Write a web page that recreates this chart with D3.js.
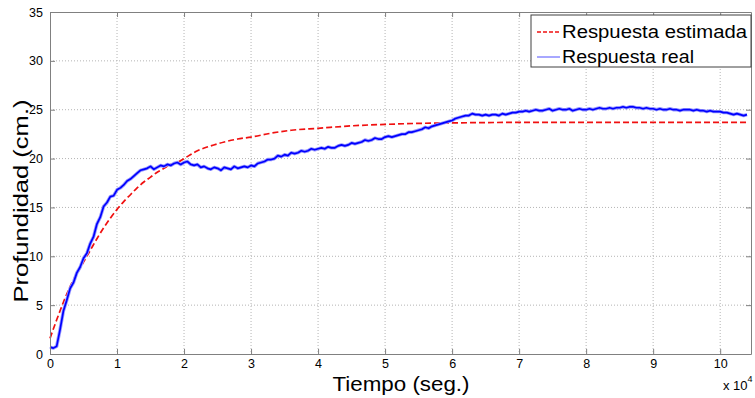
<!DOCTYPE html>
<html>
<head>
<meta charset="utf-8">
<script src="https://cdn.jsdelivr.net/npm/d3@7"></script>
<style>
  body { margin: 0; background: #fff; }
  text { font-family: "Liberation Sans", Arial, sans-serif; fill: #000; }
</style>
</head>
<body>
<svg id="chart"></svg>
<script>
const width = 755;
const height = 398;

// x ticks (in units of 10^4 s) and y ticks
const xTickLabels = [0, 1, 2, 3, 4, 5, 6, 7, 8, 9, 10];
const yTickLabels = [0, 5, 10, 15, 20, 25, 30, 35];

// Respuesta real: one sample every 500 s, from 0 to 104000 s
const realStep = 500;
const realValues = [
  0.7, 0.6, 0.8, 2.5, 4.4, 5.5, 6.7, 7.3, 8.3, 8.9,
  9.8, 10.3, 11.3, 12.0, 13.3, 14.0, 15.1, 15.5, 16.1, 16.2,
  16.8, 17.0, 17.3, 17.7, 17.9, 18.2, 18.5, 18.8, 18.9, 19.0,
  19.2, 18.9, 19.1, 19.3, 19.2, 19.4, 19.3, 19.5, 19.6, 19.4,
  19.6, 19.7, 19.4, 19.3, 19.4, 19.1, 19.2, 19.0, 18.9, 19.1,
  19.0, 18.8, 19.1, 19.0, 18.9, 19.2, 19.0, 19.1, 19.2, 19.1,
  19.3, 19.2, 19.5, 19.6, 19.7, 19.9, 19.9, 20.0, 20.3, 20.2,
  20.4, 20.3, 20.6, 20.5, 20.6, 20.8, 20.7, 20.8, 21.0, 20.9,
  21.0, 21.1, 21.0, 21.2, 21.1, 21.1, 21.3, 21.4, 21.3, 21.4,
  21.6, 21.5, 21.6, 21.7, 21.9, 21.8, 21.9, 22.1, 22.0, 22.0,
  22.2, 22.3, 22.2, 22.3, 22.4, 22.5, 22.5, 22.7, 22.7, 22.8,
  22.9, 23.0, 23.2, 23.1, 23.3, 23.4, 23.5, 23.6, 23.7, 23.8,
  23.9, 24.1, 24.2, 24.3, 24.4, 24.4, 24.6, 24.5, 24.5, 24.4,
  24.5, 24.4, 24.5, 24.5, 24.4, 24.6, 24.5, 24.6, 24.7, 24.7,
  24.8, 24.8, 24.9, 24.8, 24.9, 25.0, 24.9, 24.9, 25.0, 25.1,
  24.9, 25.0, 25.1, 25.0, 25.0, 25.1, 24.9, 25.0, 25.1, 25.0,
  25.0, 25.1, 25.0, 25.1, 25.2, 25.1, 25.1, 25.2, 25.1, 25.2,
  25.2, 25.3, 25.2, 25.3, 25.3, 25.2, 25.2, 25.1, 25.2, 25.1,
  25.1, 25.0, 25.1, 25.0, 25.0, 25.1, 25.0, 25.0, 24.9, 25.0,
  25.0, 25.0, 24.9, 25.0, 24.9, 24.9, 24.8, 24.9, 24.8, 24.8,
  24.8, 24.7, 24.7, 24.6, 24.5, 24.6, 24.5, 24.4, 24.5
];

// Respuesta estimada
const estTimes = [0, 1000, 2000, 3000, 4000, 5000, 6000, 7000, 8000, 9000,
  10000, 11000, 12000, 13000, 14000, 15000, 16000, 17000, 18000, 19000,
  20000, 22000, 24000, 26000, 28000, 30000, 33000, 36000, 40000, 45000,
  50000, 55000, 60000, 70000, 80000, 90000, 104200];
const estValues = [1.6, 3.5, 5.3, 6.9, 8.2, 9.4, 10.6, 11.8, 12.9, 13.9,
  14.8, 15.6, 16.3, 17.0, 17.6, 18.1, 18.6, 19.0, 19.4, 19.6,
  20.0, 20.8, 21.3, 21.7, 22.0, 22.2, 22.6, 22.9, 23.1, 23.35,
  23.5, 23.6, 23.65, 23.7, 23.7, 23.7, 23.7];

const seriesNames = ["Respuesta estimada", "Respuesta real"];

const margin = { top: 12, right: 4, bottom: 44, left: 50 };
const plotW = width - margin.left - margin.right;
const plotH = height - margin.top - margin.bottom;

const svg = d3.select("#chart").attr("width", width).attr("height", height);
const g = svg.append("g").attr("transform", `translate(${margin.left},${margin.top})`);

const x = d3.scaleLinear().domain([0, 104600]).range([0, plotW]);
const y = d3.scaleLinear().domain([0, 35]).range([plotH, 0]);

// grid
g.append("g").selectAll("line")
  .data(xTickLabels.slice(1))
  .join("line")
  .attr("x1", d => x(d * 1e4)).attr("x2", d => x(d * 1e4))
  .attr("y1", 0).attr("y2", plotH)
  .attr("stroke", "#b4b4b4").attr("stroke-dasharray", "1,2");

g.append("g").selectAll("line")
  .data(yTickLabels.slice(1, -1))
  .join("line")
  .attr("x1", 0).attr("x2", plotW)
  .attr("y1", d => y(d)).attr("y2", d => y(d))
  .attr("stroke", "#b4b4b4").attr("stroke-dasharray", "1,2");

// lines
const realData = realValues.map((v, i) => [i * realStep, v]);
const estData = estTimes.map((t, i) => [t, estValues[i]]);
const line = d3.line().x(d => x(d[0])).y(d => y(d[1]));

g.append("path")
  .datum(estData)
  .attr("d", line.curve(d3.curveMonotoneX))
  .attr("fill", "none")
  .attr("stroke", "#f01010")
  .attr("stroke-width", 1.7)
  .attr("stroke-dasharray", "6,3");

// noisy trace: light halo under a solid core
const realLine = d3.line().x(d => x(d[0])).y(d => y(d[1]));
g.append("path")
  .datum(realData)
  .attr("d", realLine)
  .attr("fill", "none")
  .attr("stroke", "#9a9aff")
  .attr("stroke-width", 3.4)
  .attr("stroke-linejoin", "round");

g.append("path")
  .datum(realData)
  .attr("d", realLine)
  .attr("fill", "none")
  .attr("stroke", "#0000ff")
  .attr("stroke-width", 1.7)
  .attr("stroke-linejoin", "round");

// axes, MATLAB style: inward ticks on all four sides
const axisColor = "#808080";
const xAxisB = d3.axisBottom(x).tickValues(xTickLabels.map(d => d * 1e4))
  .tickFormat(d => d / 1e4).tickSizeInner(-5).tickSizeOuter(0).tickPadding(5);
const xAxisT = d3.axisTop(x).tickValues(xTickLabels.map(d => d * 1e4))
  .tickFormat("").tickSizeInner(-5).tickSizeOuter(0);
const yAxisL = d3.axisLeft(y).tickValues(yTickLabels)
  .tickSizeInner(-5).tickSizeOuter(0).tickPadding(7);
const yAxisR = d3.axisRight(y).tickValues(yTickLabels)
  .tickFormat("").tickSizeInner(-5).tickSizeOuter(0);

function styleAxis(sel) {
  sel.selectAll(".domain").attr("stroke", axisColor);
  sel.selectAll(".tick line").attr("stroke", axisColor);
  sel.selectAll(".tick text").attr("font-size", "12.5px")
    .attr("font-family", "Liberation Sans, Arial, sans-serif").attr("fill", "#000");
}

g.append("g").attr("transform", `translate(0,${plotH})`).call(xAxisB).call(styleAxis);
g.append("g").call(xAxisT).call(styleAxis);
g.append("g").call(yAxisL).call(styleAxis);
g.append("g").attr("transform", `translate(${plotW},0)`).call(yAxisR).call(styleAxis);

// x 10^4 multiplier
const mult = svg.append("text")
  .attr("x", 723).attr("y", 390)
  .attr("font-size", "13px");
mult.append("tspan").text("x 10");
mult.append("tspan").attr("dy", -8).attr("font-size", "9px").text("4");

// axis labels
svg.append("text")
  .attr("x", 401).attr("y", 391)
  .attr("text-anchor", "middle")
  .attr("font-size", "20px")
  .attr("textLength", 137).attr("lengthAdjust", "spacingAndGlyphs")
  .text("Tiempo (seg.)");

svg.append("text")
  .attr("transform", "translate(28,201) rotate(-90)")
  .attr("text-anchor", "middle")
  .attr("font-size", "21px")
  .attr("textLength", 203).attr("lengthAdjust", "spacingAndGlyphs")
  .text("Profundidad (cm.)");

// legend
const legend = svg.append("g").attr("transform", "translate(531,15)");
legend.append("rect")
  .attr("width", 220).attr("height", 52)
  .attr("fill", "#fff").attr("stroke", "#404040");

const legendStyles = [
  { color: "#f01010", dash: "4,2", w: 1.4, len: 185 },
  { color: "#5050ff", dash: null, w: 1, len: 132 }
];

seriesNames.forEach((name, i) => {
  const row = legend.append("g").attr("transform", `translate(0,${17 + i * 25})`);
  row.append("line")
    .attr("x1", 6).attr("x2", 29).attr("y1", 0).attr("y2", 0)
    .attr("stroke", legendStyles[i].color)
    .attr("stroke-width", legendStyles[i].w)
    .attr("stroke-dasharray", legendStyles[i].dash);
  row.append("text")
    .attr("x", 31).attr("y", 6)
    .attr("font-size", "17.5px")
    .attr("textLength", legendStyles[i].len).attr("lengthAdjust", "spacingAndGlyphs")
    .text(name);
});
</script>
</body>
</html>
